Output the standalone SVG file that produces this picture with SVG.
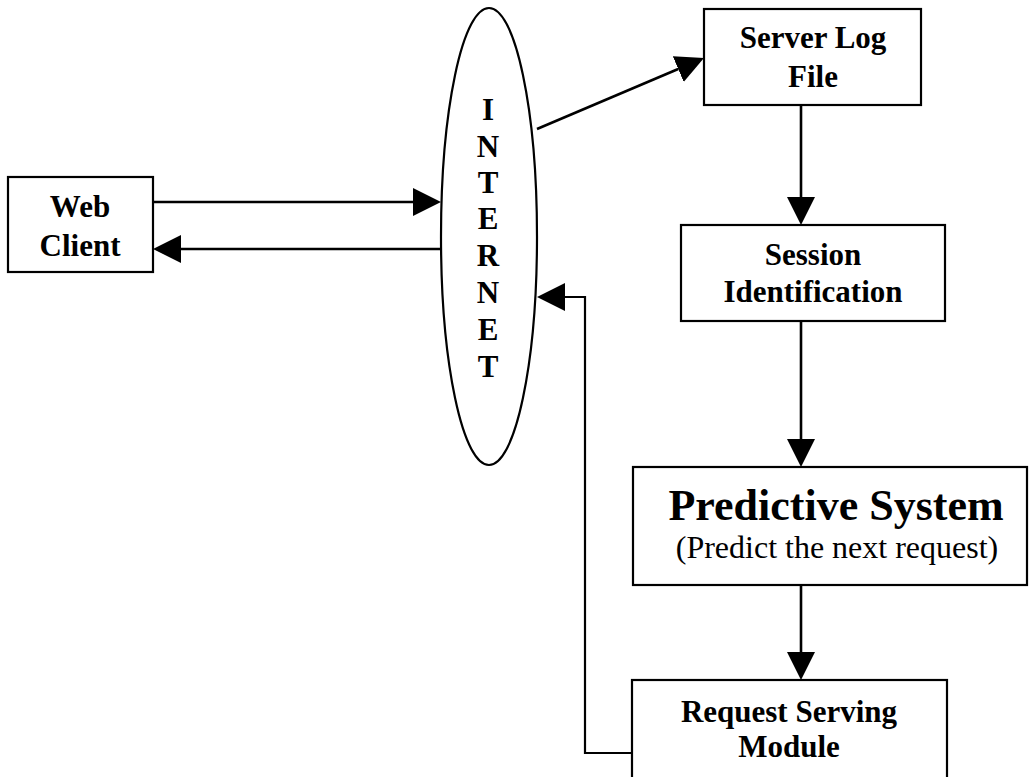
<svg xmlns="http://www.w3.org/2000/svg" width="1029" height="777" viewBox="0 0 1029 777">
<style>
.box{fill:#fff;stroke:#000;stroke-width:2.2}
.lbl{font-family:"Liberation Serif","Times New Roman",serif;font-weight:bold;font-size:31px;fill:#000;text-anchor:middle}
.big{font-family:"Liberation Serif","Times New Roman",serif;font-weight:bold;font-size:44px;fill:#000;text-anchor:middle}
.sub{font-family:"Liberation Serif","Times New Roman",serif;font-size:32px;fill:#000;text-anchor:middle}
.conn{fill:none;stroke:#000;stroke-width:2.6}
.thin{fill:none;stroke:#000;stroke-width:2.2}
</style>
<defs>
<marker id="ah" markerUnits="userSpaceOnUse" markerWidth="28" markerHeight="28" refX="0" refY="14" orient="auto" viewBox="0 0 28 28">
<path d="M0,0 L28,14 L0,28 Z" fill="#000"/>
</marker>
</defs>
<rect width="1029" height="777" fill="#fff"/>
<g id="connectors">
<line class="conn" x1="153" y1="202" x2="413" y2="202" marker-end="url(#ah)"/>
<line class="conn" x1="441" y1="249" x2="181" y2="249" marker-end="url(#ah)"/>
<line class="conn" x1="537" y1="129" x2="678.2" y2="69" marker-end="url(#ah)"/>
<line class="conn" x1="801" y1="105" x2="801" y2="197" marker-end="url(#ah)"/>
<line class="conn" x1="801" y1="321" x2="801" y2="439" marker-end="url(#ah)"/>
<line class="conn" x1="801" y1="585" x2="801" y2="652" marker-end="url(#ah)"/>
<polyline class="thin" points="632,753 585,753 585,297 565,297" marker-end="url(#ah)"/>
</g>
<g id="web-client">
<rect class="box" x="8" y="177" width="145" height="95"/>
<text class="lbl" x="80" y="217">Web</text>
<text class="lbl" x="80" y="256">Client</text>
</g>
<g id="internet">
<ellipse cx="489" cy="236.5" rx="48" ry="228.5" fill="#fff" stroke="#000" stroke-width="2.2"/>
<text class="lbl" x="488" y="120">I</text>
<text class="lbl" x="488" y="157">N</text>
<text class="lbl" x="488" y="193">T</text>
<text class="lbl" x="488" y="229">E</text>
<text class="lbl" x="488" y="266">R</text>
<text class="lbl" x="488" y="303">N</text>
<text class="lbl" x="488" y="340">E</text>
<text class="lbl" x="488" y="377">T</text>
</g>
<g id="server-log-file">
<rect class="box" x="704" y="9" width="217" height="96"/>
<text class="lbl" x="813" y="48">Server Log</text>
<text class="lbl" x="813" y="87">File</text>
</g>
<g id="session-identification">
<rect class="box" x="681" y="225" width="264" height="96"/>
<text class="lbl" x="813" y="265">Session</text>
<text class="lbl" x="813" y="302">Identification</text>
</g>
<g id="predictive-system">
<rect class="box" x="633" y="467" width="394" height="118"/>
<text class="big" x="836" y="520">Predictive System</text>
<text class="sub" x="837" y="558">(Predict the next request)</text>
</g>
<g id="request-serving-module">
<rect class="box" x="632" y="680" width="315" height="110"/>
<text class="lbl" x="789" y="722">Request Serving</text>
<text class="lbl" x="789" y="757">Module</text>
</g>
</svg>
